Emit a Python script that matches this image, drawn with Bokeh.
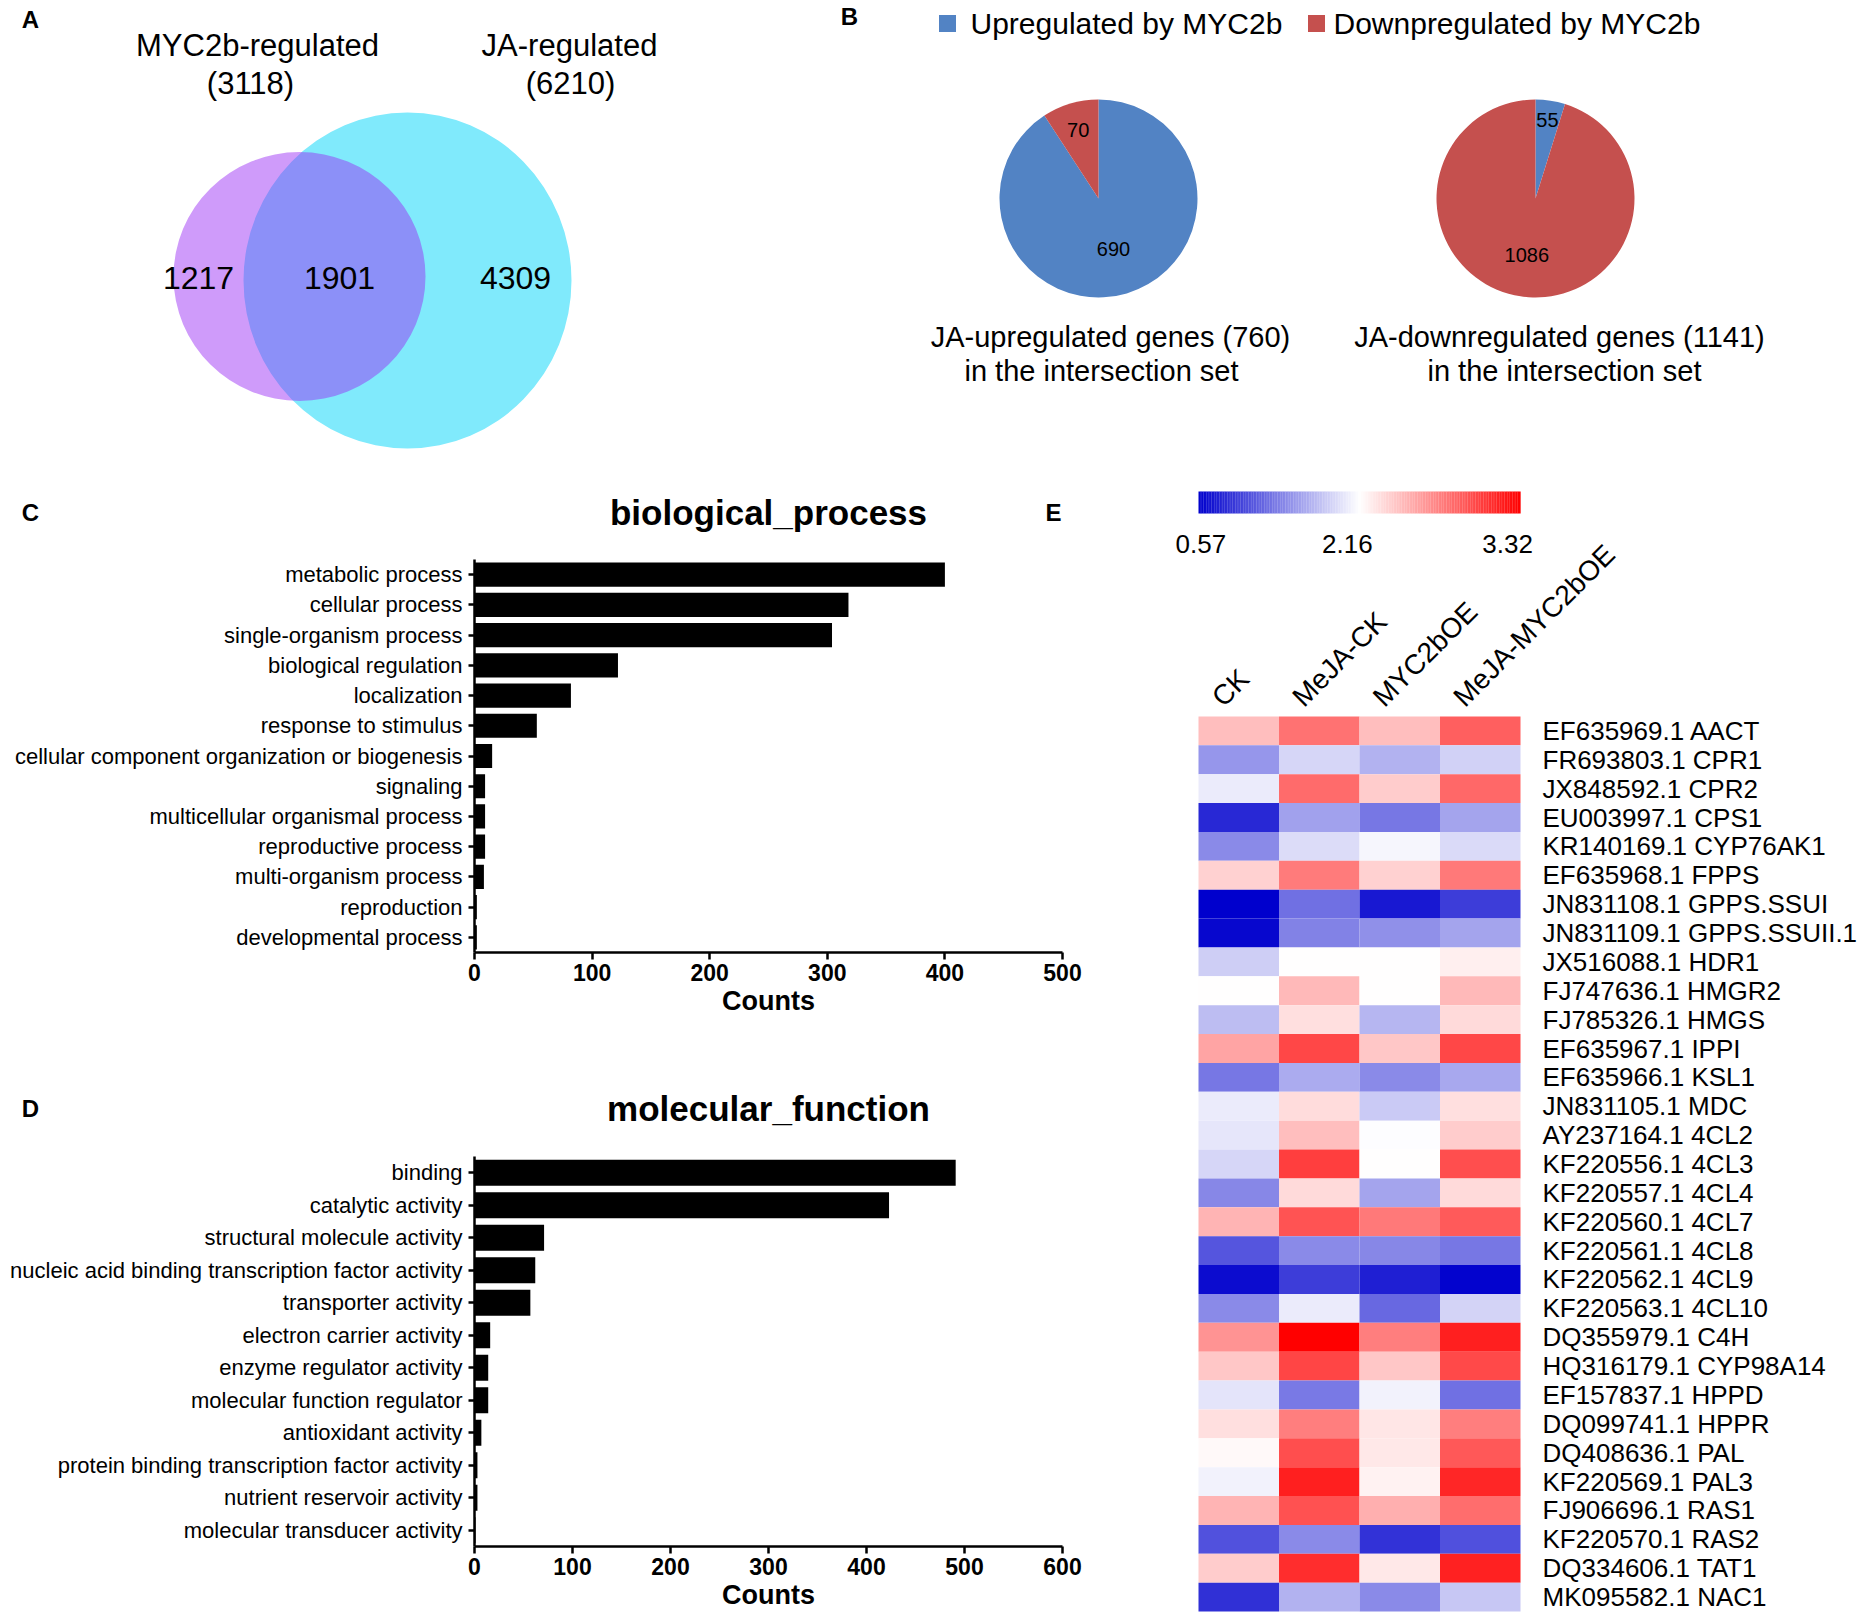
import numpy as np
from bokeh.plotting import figure
from bokeh.layouts import row, column
from bokeh.models import Range1d, FactorRange, ColumnDataSource, FixedTicker
from bokeh.transform import linear_cmap
from bokeh.core.properties import value
from bokeh.embed import file_html
from bokeh.resources import INLINE

FONT = "Liberation Sans"

# ---------------- data ----------------
venn_sets = ["MYC2b-regulated", "JA-regulated"]
venn_totals = [3118, 6210]
venn_regions = [1217, 1901, 4309]   # MYC2b only, both, JA only

pie_series = ["Upregulated by MYC2b", "Downpregulated by MYC2b"]
pie_colors = ["#5283c4", "#c5504e"]
pie_groups = ["JA-upregulated genes (760)", "JA-downregulated genes (1141)"]
pie_subtitle = "in the intersection set"
pie_ja_up = [690, 70]
pie_ja_down = [55, 1086]

bp_terms = ["metabolic process", "cellular process", "single-organism process",
            "biological regulation", "localization", "response to stimulus",
            "cellular component organization or biogenesis", "signaling",
            "multicellular organismal process", "reproductive process",
            "multi-organism process", "reproduction", "developmental process"]
bp_counts = [400, 318, 304, 122, 82, 53, 15, 9, 9, 9, 8, 2, 2]

mf_terms = ["binding", "catalytic activity", "structural molecule activity",
            "nucleic acid binding transcription factor activity", "transporter activity",
            "electron carrier activity", "enzyme regulator activity",
            "molecular function regulator", "antioxidant activity",
            "protein binding transcription factor activity", "nutrient reservoir activity",
            "molecular transducer activity"]
mf_counts = [491, 423, 71, 62, 57, 16, 14, 14, 7, 3, 3, 1]

heat_conditions = ["CK", "MeJA-CK", "MYC2bOE", "MeJA-MYC2bOE"]
heat_genes = ["EF635969.1 AACT", "FR693803.1 CPR1", "JX848592.1 CPR2", "EU003997.1 CPS1",
              "KR140169.1 CYP76AK1", "EF635968.1 FPPS", "JN831108.1 GPPS.SSUI",
              "JN831109.1 GPPS.SSUII.1", "JX516088.1 HDR1", "FJ747636.1 HMGR2",
              "FJ785326.1 HMGS", "EF635967.1 IPPI", "EF635966.1 KSL1", "JN831105.1 MDC",
              "AY237164.1 4CL2", "KF220556.1 4CL3", "KF220557.1 4CL4", "KF220560.1 4CL7",
              "KF220561.1 4CL8", "KF220562.1 4CL9", "KF220563.1 4CL10", "DQ355979.1 C4H",
              "HQ316179.1 CYP98A14", "EF157837.1 HPPD", "DQ099741.1 HPPR", "DQ408636.1 PAL",
              "KF220569.1 PAL3", "FJ906696.1 RAS1", "KF220570.1 RAS2", "DQ334606.1 TAT1",
              "MK095582.1 NAC1"]
heat_ck = [2.46, 1.51, 2.04, 0.82, 1.44, 2.37, 0.57, 0.62, 1.85, 2.16, 1.75, 2.57, 1.32, 2.04,
           2.00, 1.91, 1.41, 2.50, 1.10, 0.65, 1.44, 2.65, 2.41, 1.99, 2.31, 2.19, 2.08, 2.50,
           1.08, 2.39, 0.88]
heat_meja_ck = [2.80, 1.91, 2.83, 1.57, 1.94, 2.76, 1.27, 1.38, 2.16, 2.48, 2.31, 2.99, 1.64,
                2.32, 2.45, 3.04, 2.33, 2.94, 1.43, 0.95, 2.04, 3.32, 3.00, 1.33, 2.74, 2.96,
                3.17, 2.95, 1.43, 3.11, 1.68]
heat_myc2boe = [2.46, 1.68, 2.39, 1.32, 2.10, 2.37, 0.73, 1.47, 2.16, 2.16, 1.70, 2.41, 1.43,
                1.83, 2.14, 2.16, 1.60, 2.77, 1.41, 0.77, 1.22, 2.74, 2.41, 2.08, 2.27, 2.26,
                2.22, 2.52, 0.89, 2.26, 1.43]
heat_meja_myc2boe = [2.89, 1.87, 2.84, 1.60, 1.93, 2.77, 0.95, 1.60, 2.23, 2.48, 2.33, 2.99,
                     1.62, 2.31, 2.39, 2.96, 2.33, 2.91, 1.32, 0.60, 1.89, 3.18, 2.98, 1.27,
                     2.74, 2.92, 3.14, 2.82, 1.07, 3.16, 1.81]
cbar_ticks = [0.57, 2.16, 3.32]


# ---------------- helpers ----------------
def no_align(p):
    try:
        p.frame_align = False
    except Exception:
        pass
    return p


def canvas(x0, x1, y0, y1):
    p = figure(width=int(x1 - x0), height=int(y1 - y0),
               x_range=Range1d(x0, x1), y_range=Range1d(y1, y0),
               output_backend="svg", toolbar_location=None, min_border=0,
               x_axis_location=None, y_axis_location=None)
    p.grid.visible = False
    p.outline_line_color = None
    return no_align(p)


def txt(p, xs, ys, texts, size, bold=False, align="center", baseline="middle",
        color="black", angle=0.0):
    p.text(x=list(xs), y=list(ys), text=list(texts), text_font=value(FONT),
           text_font_size=f"{size}px", text_font_style="bold" if bold else "normal",
           text_align=align, text_baseline=baseline, text_color=color, angle=angle)


# ---------------- panel A: Venn ----------------
pA = canvas(0, 708, 0, 476)
txt(pA, [30], [19], ["A"], 24, bold=True)
txt(pA, [257, 569], [45, 45], venn_sets, 31)
txt(pA, [250, 570], [83, 83], [f"({t})" for t in venn_totals], 31)
pA.ellipse(x=[407], y=[280], width=[328], height=[336], fill_color="#80eafc", line_color=None)
pA.ellipse(x=[299], y=[276], width=[252], height=[249], fill_color=(153, 42, 245),
           fill_alpha=0.47, line_color=None)
txt(pA, [198, 339, 515], [277, 277, 277], [str(v) for v in venn_regions], 32)

# ---------------- panel B: pies ----------------
pB = canvas(708, 1864, 0, 476)
txt(pB, [849], [16], ["B"], 24, bold=True)
pB.rect(x=[947, 1316], y=[23, 23], width=17, height=17, fill_color=pie_colors, line_color=None)
txt(pB, [970, 1333], [23, 23], pie_series, 30, align="left")

pie_cy, pie_r = 198, 99
for vals, cx, fracs in [(pie_ja_up, 1098, [0.53, 0.72]), (pie_ja_down, 1535, [0.8, 0.58])]:
    tot = float(sum(vals))
    cum = np.concatenate([[0.0], np.cumsum(vals)]) / tot
    start = np.pi / 2 - 2 * np.pi * cum[1:]
    end = np.pi / 2 - 2 * np.pi * cum[:-1]
    pB.wedge(x=cx, y=pie_cy, radius=pie_r, start_angle=start, end_angle=end,
             fill_color=pie_colors, line_color=None)
    mid = (start + end) / 2
    lx = cx + np.array(fracs) * pie_r * np.cos(mid)
    ly = pie_cy - np.array(fracs) * pie_r * np.sin(mid)
    txt(pB, lx, ly, [str(v) for v in vals], 20)
txt(pB, [1110, 1559], [336, 336], pie_groups, 29)
txt(pB, [1101, 1564], [370, 370], [pie_subtitle, pie_subtitle], 29)


# ---------------- panels C / D: bars ----------------
def header(y0, y1, ym, letter, title, extra=None):
    h = canvas(0, 1100, y0, y1)
    txt(h, [30], [ym], [letter], 24, bold=True)
    txt(h, [768], [ym], [title], 35, bold=True)
    if extra:
        txt(h, [1053], [ym], [extra], 24, bold=True)
    return h


def bars(terms, counts, xmax, height, top, bottom):
    p = figure(width=1100, height=height, y_range=FactorRange(*terms[::-1]),
               x_range=Range1d(0, xmax), output_backend="svg", toolbar_location=None,
               min_border_left=474, min_border_right=38, min_border_top=top,
               min_border_bottom=bottom)
    no_align(p)
    p.hbar(y=terms, right=counts, height=0.8, fill_color="black", line_color=None)
    p.grid.visible = False
    p.outline_line_color = None
    p.xaxis.ticker = FixedTicker(ticks=list(range(0, xmax + 1, 100)))
    for ax in (p.xaxis[0], p.yaxis[0]):
        ax.axis_line_width = 2.5
        ax.axis_line_color = "black"
        ax.major_tick_line_width = 2.5
        ax.major_tick_in = 0
        ax.minor_tick_line_color = None
        ax.major_label_text_font = FONT
        ax.major_label_text_color = "black"
    p.xaxis.major_tick_out = 7
    p.yaxis.major_tick_out = 6
    p.yaxis.major_label_text_font_size = "22px"
    p.yaxis.major_label_standoff = 6
    p.xaxis.major_label_text_font_size = "23px"
    p.xaxis.major_label_text_font_style = "bold"
    p.xaxis.major_label_standoff = 4
    p.xaxis.axis_label = "Counts"
    p.xaxis.axis_label_text_font = FONT
    p.xaxis.axis_label_text_font_size = "27px"
    p.xaxis.axis_label_text_font_style = "bold"
    p.xaxis.axis_label_text_color = "black"
    p.xaxis.axis_label_standoff = 2
    return p


hC = header(476, 540, 512, "C", "biological_process", extra="E")
pC = bars(bp_terms, bp_counts, 500, 500, 19, 88)
hD = header(1040, 1130, 1108, "D", "molecular_function")
pD = bars(mf_terms, mf_counts, 600, 486, 26, 70)

# ---------------- panel E: heatmap ----------------
EX0, EY0 = 1100, 476
EW, EH = 764, 1140
heat_x0, heat_y0 = 1198, 716           # screen position of the heatmap's top-left corner
n_rows, n_cols = len(heat_genes), len(heat_conditions)
cw = 80.5
rh = 895 / n_rows
hl, ht = heat_x0 - EX0, heat_y0 - EY0
pE = figure(width=EW, height=EH, x_range=Range1d(-hl / cw, (EW - hl) / cw),
            y_range=Range1d((EH - ht) / rh, -ht / rh),
            output_backend="svg", toolbar_location=None, min_border=0,
            x_axis_location=None, y_axis_location=None)
no_align(pE)
pE.grid.visible = False
pE.outline_line_color = None

lo, mid_v, hi = cbar_ticks
pal = []
for v in np.linspace(lo, hi, 256):
    if v <= mid_v:
        t = (mid_v - v) / (mid_v - lo)
        r = g = int(round(255 * (1 - t)))
        b = int(round(255 - 50 * t))
    else:
        s = (v - mid_v) / (hi - mid_v)
        r = 255
        g = b = int(round(255 * (1 - s)))
    pal.append("#%02x%02x%02x" % (r, g, b))

cols = [heat_ck, heat_meja_ck, heat_myc2boe, heat_meja_myc2boe]
xs, ys, vs = [], [], []
for ci, colvals in enumerate(cols):
    for ri, v in enumerate(colvals):
        xs.append(ci + 0.5)
        ys.append(ri + 0.5)
        vs.append(v)
src = ColumnDataSource(dict(x=xs, y=ys, v=vs))
pE.rect(x="x", y="y", width=1, height=1, source=src,
        fill_color=linear_cmap("v", pal, lo, hi), line_color=None)

# gene labels and condition labels
txt(pE, [(1542 - heat_x0) / cw] * n_rows, [i + 0.5 for i in range(n_rows)], heat_genes, 26,
    align="left")
txt(pE, [i + 0.5 - 22 / cw for i in range(n_cols)], [-15 / rh] * n_cols, heat_conditions, 28,
    align="left", baseline="alphabetic", angle=np.pi / 4)

# colour bar (blue -> white over first half, white -> red over second half)
nseg = 200
edges = np.linspace(0, n_cols, nseg + 1)
cb_cols = []
for i in range(nseg):
    f = (i + 0.5) / nseg
    if f < 0.5:
        t = 1 - f / 0.5
        r = g = int(round(255 * (1 - t)))
        b = int(round(255 - 50 * t))
    else:
        s = (f - 0.5) / 0.5
        r = 255
        g = b = int(round(255 * (1 - s)))
    cb_cols.append("#%02x%02x%02x" % (r, g, b))
cb_top, cb_bot = (491 - heat_y0) / rh, (513 - heat_y0) / rh
pE.quad(left=edges[:-1], right=edges[1:] + 0.002, top=cb_top, bottom=cb_bot,
        fill_color=cb_cols, line_color=None)
txt(pE, [0.03, 1.85, 3.84], [(543 - heat_y0) / rh] * 3, [f"{t:.2f}" for t in cbar_ticks], 26)

layout = column(row(pA, pB), row(column(hC, pC, hD, pD), pE))

with open("out.html", "w") as f:
    f.write(file_html(layout, INLINE))
